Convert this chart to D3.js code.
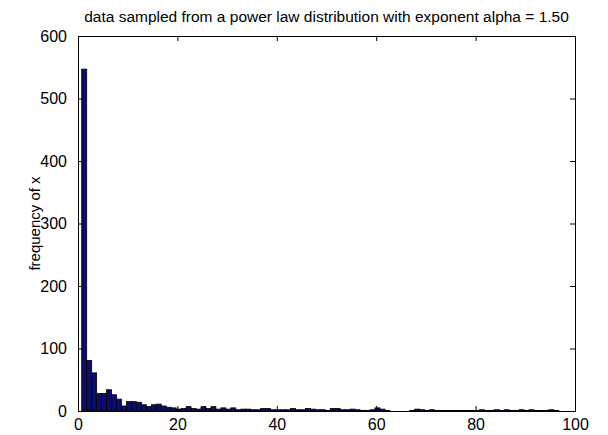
<!DOCTYPE html>
<html>
<head>
<meta charset="utf-8">
<script src="https://cdn.jsdelivr.net/npm/d3@7"></script>
<style>
  html, body { margin: 0; padding: 0; background: #fff; }
  svg { display: block; font-family: "Liberation Sans", Arial, sans-serif; }
</style>
</head>
<body>
<svg id="chart" width="608" height="435"></svg>
<script>
// Histogram counts, one per unit-wide bin starting at binStart
const binStart = 0.75;
const binWidth = 1;
const counts = [
  547, 81, 61, 28, 28, 34, 26, 19, 8, 15,
  15, 14, 10, 7, 10, 11, 8, 6, 5, 3,
  4, 7, 4, 3, 7, 4, 7, 3, 5, 3,
  5, 2, 3, 3, 2, 2, 4, 4, 2, 2,
  2, 2, 4, 2, 2, 4, 3, 2, 2, 1,
  4, 4, 2, 2, 3, 2, 1, 1, 2, 5,
  3, 1, 0, 0, 0, 0, 1, 3, 2, 1,
  2, 1, 1, 1, 1, 1, 1, 1, 1, 1,
  2, 1, 1, 2, 1, 2, 1, 1, 2, 1,
  2, 1, 1, 1, 2, 1
];
const xTicks = [0, 20, 40, 60, 80, 100];
const yTicks = [0, 100, 200, 300, 400, 500, 600];
const titleText = "data sampled from a power law distribution with exponent alpha = 1.50";
const yLabelText = "frequency of x";

const svg = d3.select("#chart");
const plotLeft = 78, plotRight = 575, plotTop = 36, plotBottom = 411;

const x = d3.scaleLinear().domain([0, 100]).range([plotLeft, plotRight]);
const y = d3.scaleLinear().domain([0, 600]).range([plotBottom, plotTop]);

// Bars
svg.append("g")
  .selectAll("rect")
  .data(counts)
  .join("rect")
  .attr("x", (d, i) => x(binStart + i * binWidth))
  .attr("width", (d, i) => x(binStart + (i + 1) * binWidth) - x(binStart + i * binWidth))
  .attr("y", d => y(d))
  .attr("height", d => y(0) - y(d))
  .attr("fill", "#0c0c6a")
  .attr("stroke", "#000")
  .attr("stroke-width", 0.8);

// Axes with inward ticks on all four sides
const tickLen = 5;
const axisBottom = d3.axisBottom(x).tickValues(xTicks).tickSizeInner(-tickLen).tickSizeOuter(0).tickPadding(8);
const axisTop = d3.axisTop(x).tickValues(xTicks).tickSizeInner(-tickLen).tickSizeOuter(0).tickFormat("");
const axisLeft = d3.axisLeft(y).tickValues(yTicks).tickSizeInner(-tickLen).tickSizeOuter(0).tickPadding(11);
const axisRight = d3.axisRight(y).tickValues(yTicks).tickSizeInner(-tickLen).tickSizeOuter(0).tickFormat("");

function style(g) {
  g.selectAll("path").attr("stroke", "#000").attr("stroke-width", 1);
  g.selectAll("line").attr("stroke", "#000").attr("stroke-width", 1);
  g.selectAll("text").attr("fill", "#000").style("font-size", "16px")
    .style("font-family", "'Liberation Sans', Arial, sans-serif");
}

svg.append("g").attr("transform", `translate(0,${plotBottom})`).call(axisBottom).call(style);
svg.append("g").attr("transform", `translate(0,${plotTop})`).call(axisTop).call(style);
svg.append("g").attr("transform", `translate(${plotLeft},0)`).call(axisLeft).call(style);
svg.append("g").attr("transform", `translate(${plotRight},0)`).call(axisRight).call(style);

// Title
svg.append("text")
  .attr("x", (plotLeft + plotRight) / 2)
  .attr("y", 22)
  .attr("text-anchor", "middle")
  .style("font-size", "15.5px")
  .attr("fill", "#000")
  .text(titleText);

// Y axis label
svg.append("text")
  .attr("transform", `translate(40,${(plotTop + plotBottom) / 2}) rotate(-90)`)
  .attr("text-anchor", "middle")
  .style("font-size", "15px")
  .attr("fill", "#000")
  .text(yLabelText);
</script>
</body>
</html>
